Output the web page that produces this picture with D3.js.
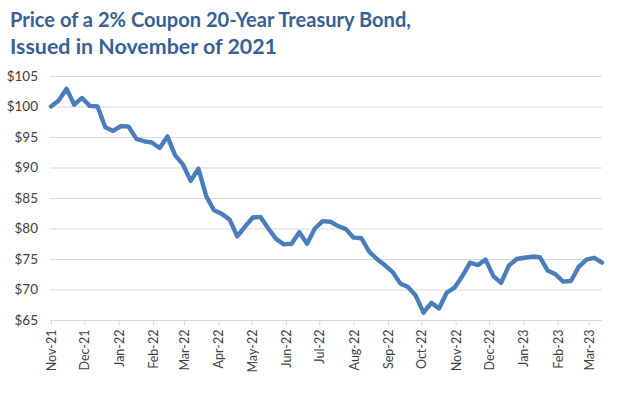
<!DOCTYPE html>
<html><head><meta charset="utf-8">
<script src="https://cdn.jsdelivr.net/npm/d3@7"></script>
<style>body{margin:0;background:#fff}svg{display:block}</style>
</head><body>
<svg id="c" width="619" height="393"></svg>
<script>
const titleLines = ["Price of a 2% Coupon 20-Year Treasury Bond,", "Issued in November of 2021"];
const startDate = "2021-11-01";
const prices = [100.0,101.0,102.9,100.3,101.4,100.1,100.0,96.6,96.0,96.8,96.7,94.7,94.3,94.1,93.2,95.1,92.0,90.5,87.8,89.8,
85.3,83.0,82.4,81.5,78.7,80.3,81.8,81.9,80.0,78.3,77.4,77.5,79.4,77.5,80.0,81.2,81.1,80.4,79.9,78.5,
78.4,76.2,75.0,74.0,72.9,71.0,70.4,69.0,66.2,67.8,66.9,69.5,70.3,72.2,74.4,74.0,74.9,72.2,71.1,73.9,
75.0,75.2,75.4,75.3,73.1,72.5,71.3,71.4,73.7,74.9,75.2,74.4];
const yTicks = [65,70,75,80,85,90,95,100,105];
const xTickLabels = ["Nov-21","Dec-21","Jan-22","Feb-22","Mar-22","Apr-22","May-22","Jun-22","Jul-22","Aug-22","Sep-22","Oct-22","Nov-22","Dec-22","Jan-23","Feb-23","Mar-23"];

const parse = d3.utcParse("%Y-%m-%d");
const t0 = parse(startDate);
const data = prices.map((v,i)=>({date:d3.utcDay.offset(t0, i*7), value:v}));
const xTickDates = xTickLabels.map(s=>d3.utcParse("%b-%y")(s));

const svg = d3.select("#c");
const pLeft=50, pRight=602, pTop=76, pBottom=320;
const x = d3.scaleUtc().domain([t0, data[data.length-1].date]).range([51, pRight]);
const y = d3.scaleLinear().domain([65,105]).range([pBottom, pTop]);

const tcol = "#3a5f92";
const titleWidths = [401, 267];
svg.append("g").selectAll("text").data(titleLines).join("text")
  .attr("x",10).attr("y",(d,i)=>27+i*27)
  .attr("font-family","Lato").attr("font-weight","bold").attr("font-size","20.5px")
  .attr("textLength",(d,i)=>titleWidths[i]).attr("lengthAdjust","spacingAndGlyphs")
  .attr("fill",tcol).text(d=>d);

svg.append("g").selectAll("line").data(yTicks.filter(v=>v>65)).join("line")
  .attr("x1",pLeft).attr("x2",pRight).attr("y1",d=>y(d)+0.5).attr("y2",d=>y(d)+0.5)
  .attr("stroke","#d9d9d9").attr("stroke-width",1);

svg.append("g").selectAll("text").data(yTicks).join("text")
  .attr("x",38).attr("y",d=>y(d)+4.5).attr("text-anchor","end")
  .attr("font-family","Lato").attr("font-size","13.5px").attr("fill","#404040")
  .text(d=>"$"+d);

const xAxis = d3.axisBottom(x).tickValues(xTickDates).tickSize(5).tickFormat((d,i)=>xTickLabels[i]);
const gx = svg.append("g").attr("transform",`translate(0,${pBottom+0.5})`).call(xAxis);
gx.select(".domain").attr("stroke","#d9d9d9").attr("d",`M${pLeft},0H${pRight}`);
gx.selectAll(".tick line").attr("stroke","#d9d9d9");
gx.selectAll(".tick text")
  .attr("font-family","Lato").attr("font-size","12.5px").attr("fill","#404040")
  .attr("transform","rotate(-90)").attr("text-anchor","end")
  .attr("x",-9).attr("y",0).attr("dy","0.35em");

svg.append("path").datum(data)
  .attr("fill","none").attr("stroke","#4a7ebb").attr("stroke-width",4.4)
  .attr("stroke-linejoin","round").attr("stroke-linecap","round")
  .attr("d", d3.line().x(d=>x(d.date)).y(d=>y(d.value)));
</script>
</body></html>
